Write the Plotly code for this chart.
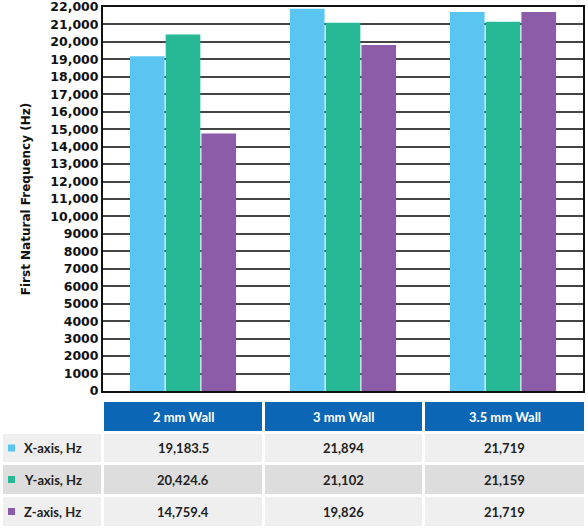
import plotly.graph_objects as go

walls = ['2 mm Wall', '3 mm Wall', '3.5 mm Wall']
series_names = ['X-axis, Hz', 'Y-axis, Hz', 'Z-axis, Hz']
x_axis_hz = [19183.5, 21894, 21719]
y_axis_hz = [20424.6, 21102, 21159]
z_axis_hz = [14759.4, 19826, 21719]
colors = ['#5bc5f2', '#27b995', '#8c5ca9']

tick_vals = list(range(0, 22001, 1000))
tick_text = [f"<b>{v:,}</b>" if v >= 10000 else f"<b>{v}</b>" for v in tick_vals]

FONT = 'Lato'
AXIS_FONT = 'DejaVu Sans'
W, H = 588, 528


def py(p):
    # pixel row -> paper y
    return 1 - p / H


fig = go.Figure()
for name, vals, col in zip(series_names, [x_axis_hz, y_axis_hz, z_axis_hz], colors):
    fig.add_trace(go.Bar(x=walls, y=vals, name=name, marker_color=col,
                         marker_line_width=0, showlegend=False))

# table below the chart, drawn with shapes + annotations
col_lr = [(3, 101), (104, 262), (265, 422), (425, 584)]
header_tb = (402, 431)
row_tb = [(434, 462), (465, 494), (497, 526)]
row_fill = ['#efefef', '#dddddd', '#efefef']

shapes = []
annotations = []
for (l, r), w in zip(col_lr[1:], walls):
    shapes.append(dict(type='rect', xref='paper', yref='paper', x0=l / W, x1=r / W,
                       y0=py(header_tb[1]), y1=py(header_tb[0]),
                       fillcolor='#0b67b6', line_width=0, layer='below'))
    annotations.append(dict(xref='paper', yref='paper', x=(l + r) / 2 / W,
                            y=py(sum(header_tb) / 2), xanchor='center', yanchor='middle',
                            text=f"<b>{w}</b>", showarrow=False,
                            font=dict(family=FONT, size=13, color='white')))

values = [x_axis_hz, y_axis_hz, z_axis_hz]
for i, (name, vals, col) in enumerate(zip(series_names, values, colors)):
    t, b = row_tb[i]
    mid = (t + b) / 2
    for l, r in col_lr:
        shapes.append(dict(type='rect', xref='paper', yref='paper', x0=l / W, x1=r / W,
                           y0=py(b), y1=py(t), fillcolor=row_fill[i], line_width=0, layer='below'))
    # legend swatch
    shapes.append(dict(type='rect', xref='paper', yref='paper', x0=8 / W, x1=15 / W,
                       y0=py(mid + 3.5), y1=py(mid - 3.5), fillcolor=col, line_width=0))
    annotations.append(dict(xref='paper', yref='paper', x=22 / W, y=py(mid),
                            xanchor='left', yanchor='middle', text=f"<b>{name}</b>", showarrow=False,
                            font=dict(family=FONT, size=13, color='#222222')))
    for j, (l, r) in enumerate(col_lr[1:]):
        annotations.append(dict(xref='paper', yref='paper', x=(l + r) / 2 / W, y=py(mid),
                                xanchor='center', yanchor='middle',
                                text=f"<b>{vals[j]:,}</b>", showarrow=False,
                                font=dict(family=FONT, size=13, color='#222222')))

fig.update_layout(
    width=W, height=H,
    margin=dict(l=0, r=0, t=0, b=0),
    paper_bgcolor='white', plot_bgcolor='white',
    barmode='group', bargap=0.33, bargroupgap=0.03,
    font=dict(family=FONT, color='#111111'),
    shapes=shapes, annotations=annotations,
    xaxis=dict(domain=[103 / W, 583 / W], showticklabels=False, showline=True,
               linecolor='#111111', linewidth=2, mirror=True, ticks='', automargin=False),
    yaxis=dict(domain=[py(391), py(7)], range=[0, 22000], tickvals=tick_vals,
               ticktext=tick_text, showgrid=True, gridcolor='#444444', gridwidth=1.6,
               showline=True, linecolor='#111111', linewidth=2, mirror=True,
               tickfont=dict(family=AXIS_FONT, size=12.5, color='#111111'),
               ticklabeloverflow='allow',
               title=dict(text='<b>First Natural Frequency (Hz)</b>',
                          font=dict(family=AXIS_FONT, size=12, color='#111111'),
                          standoff=17),
               zeroline=False, automargin=False),
)

# the page's default body margin would shift the figure by 8px
fig.write_html("out.html", config={'displayModeBar': False},
               post_script="document.body.style.margin='0';")
